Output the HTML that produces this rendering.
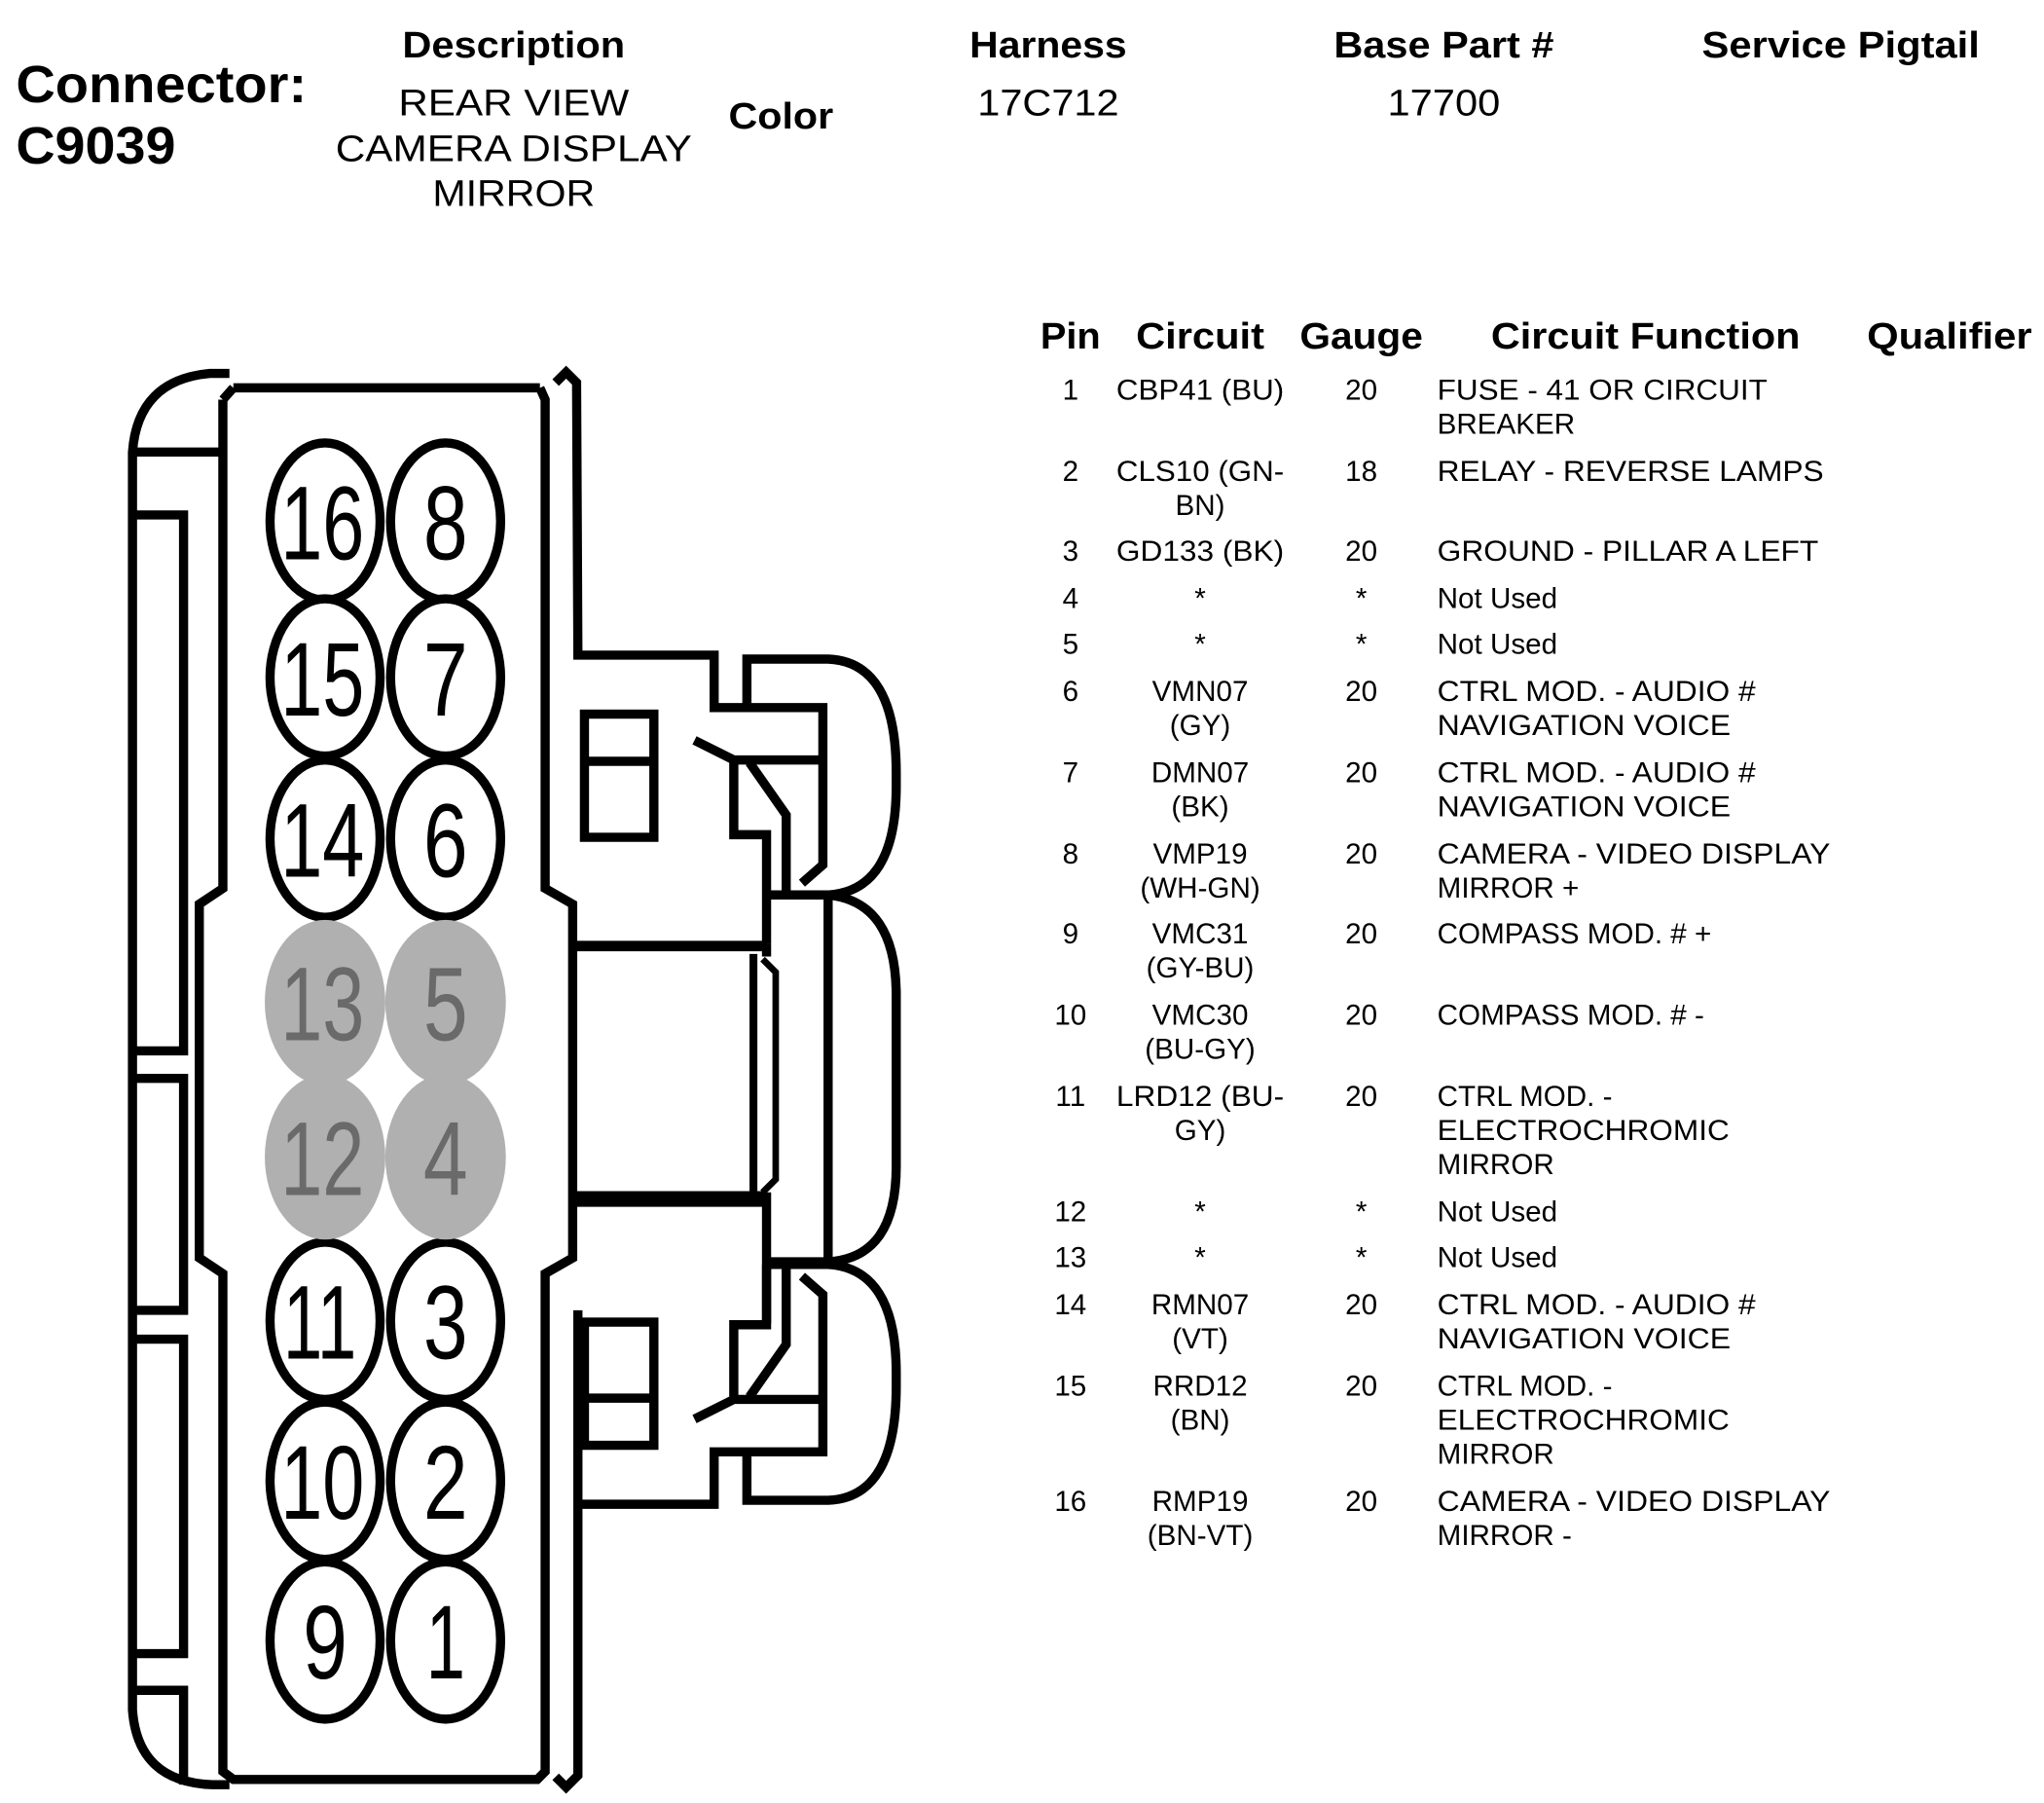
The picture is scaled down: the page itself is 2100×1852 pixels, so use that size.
<!DOCTYPE html>
<html><head><meta charset="utf-8"><style>
html,body{margin:0;padding:0;background:#fff}
svg{display:block}
text{font-family:"Liberation Sans",Arial,sans-serif;fill:#000}
.b{font-weight:bold}
.h{font-size:28px;font-weight:bold}
.d{font-size:28px}
.r{font-size:22px}
.pn{font-size:80px}
</style></head><body>
<svg width="2100" height="1852" viewBox="0 0 1560 1376" xmlns="http://www.w3.org/2000/svg">
<rect width="1560" height="1376" fill="#fff"/>
<!-- header -->
<text x="12" y="78" class="b" font-size="40" textLength="222" lengthAdjust="spacingAndGlyphs">Connector:</text>
<text x="12" y="125" class="b" font-size="40" textLength="122" lengthAdjust="spacingAndGlyphs">C9039</text>
<g text-anchor="middle">
<text x="392" y="44" class="h" textLength="170" lengthAdjust="spacingAndGlyphs">Description</text>
<text x="392" y="88" class="d" textLength="176" lengthAdjust="spacingAndGlyphs">REAR VIEW</text>
<text x="392" y="123" class="d" textLength="272" lengthAdjust="spacingAndGlyphs">CAMERA DISPLAY</text>
<text x="392" y="157" class="d" textLength="124" lengthAdjust="spacingAndGlyphs">MIRROR</text>
<text x="596" y="98" class="h" textLength="80" lengthAdjust="spacingAndGlyphs">Color</text>
<text x="800" y="44" class="h" textLength="120" lengthAdjust="spacingAndGlyphs">Harness</text>
<text x="800" y="88" class="d" textLength="108" lengthAdjust="spacingAndGlyphs">17C712</text>
<text x="1102" y="44" class="h" textLength="168" lengthAdjust="spacingAndGlyphs">Base Part #</text>
<text x="1102" y="88" class="d" textLength="86" lengthAdjust="spacingAndGlyphs">17700</text>
<text x="1405" y="44" class="h" textLength="212" lengthAdjust="spacingAndGlyphs">Service Pigtail</text>
<text x="817" y="266" class="h" textLength="46" lengthAdjust="spacingAndGlyphs">Pin</text>
<text x="916" y="266" class="h" textLength="98" lengthAdjust="spacingAndGlyphs">Circuit</text>
<text x="1039" y="266" class="h" textLength="94" lengthAdjust="spacingAndGlyphs">Gauge</text>
<text x="1256" y="266" class="h" textLength="236" lengthAdjust="spacingAndGlyphs">Circuit Function</text>
<text x="1488" y="266" class="h" textLength="126" lengthAdjust="spacingAndGlyphs">Qualifier</text>
</g>
<g class="r">
<g text-anchor="middle">
<text x="817" y="305">1</text><text x="916" y="305" textLength="128" lengthAdjust="spacingAndGlyphs">CBP41 (BU)</text><text x="1039" y="305">20</text>
<text x="817" y="367">2</text><text x="916" y="367" textLength="128" lengthAdjust="spacingAndGlyphs">CLS10 (GN-</text><text x="916" y="393">BN)</text><text x="1039" y="367">18</text>
<text x="817" y="428">3</text><text x="916" y="428" textLength="128" lengthAdjust="spacingAndGlyphs">GD133 (BK)</text><text x="1039" y="428">20</text>
<text x="817" y="464">4</text><text x="916" y="464">*</text><text x="1039" y="464">*</text>
<text x="817" y="499">5</text><text x="916" y="499">*</text><text x="1039" y="499">*</text>
<text x="817" y="535">6</text><text x="916" y="535">VMN07</text><text x="916" y="561">(GY)</text><text x="1039" y="535">20</text>
<text x="817" y="597">7</text><text x="916" y="597">DMN07</text><text x="916" y="623">(BK)</text><text x="1039" y="597">20</text>
<text x="817" y="659">8</text><text x="916" y="659">VMP19</text><text x="916" y="685">(WH-GN)</text><text x="1039" y="659">20</text>
<text x="817" y="720">9</text><text x="916" y="720">VMC31</text><text x="916" y="746">(GY-BU)</text><text x="1039" y="720">20</text>
<text x="817" y="782">10</text><text x="916" y="782">VMC30</text><text x="916" y="808">(BU-GY)</text><text x="1039" y="782">20</text>
<text x="817" y="844">11</text><text x="916" y="844" textLength="128" lengthAdjust="spacingAndGlyphs">LRD12 (BU-</text><text x="916" y="870">GY)</text><text x="1039" y="844">20</text>
<text x="817" y="932">12</text><text x="916" y="932">*</text><text x="1039" y="932">*</text>
<text x="817" y="967">13</text><text x="916" y="967">*</text><text x="1039" y="967">*</text>
<text x="817" y="1003">14</text><text x="916" y="1003">RMN07</text><text x="916" y="1029">(VT)</text><text x="1039" y="1003">20</text>
<text x="817" y="1065">15</text><text x="916" y="1065">RRD12</text><text x="916" y="1091">(BN)</text><text x="1039" y="1065">20</text>
<text x="817" y="1153">16</text><text x="916" y="1153">RMP19</text><text x="916" y="1179">(BN-VT)</text><text x="1039" y="1153">20</text>
</g>
<text x="1097" y="305" textLength="252" lengthAdjust="spacingAndGlyphs">FUSE - 41 OR CIRCUIT</text><text x="1097" y="331">BREAKER</text>
<text x="1097" y="367" textLength="295" lengthAdjust="spacingAndGlyphs">RELAY - REVERSE LAMPS</text>
<text x="1097" y="428" textLength="291" lengthAdjust="spacingAndGlyphs">GROUND - PILLAR A LEFT</text>
<text x="1097" y="464">Not Used</text>
<text x="1097" y="499">Not Used</text>
<text x="1097" y="535" textLength="243" lengthAdjust="spacingAndGlyphs">CTRL MOD. - AUDIO #</text><text x="1097" y="561" textLength="224" lengthAdjust="spacingAndGlyphs">NAVIGATION VOICE</text>
<text x="1097" y="597" textLength="243" lengthAdjust="spacingAndGlyphs">CTRL MOD. - AUDIO #</text><text x="1097" y="623" textLength="224" lengthAdjust="spacingAndGlyphs">NAVIGATION VOICE</text>
<text x="1097" y="659" textLength="300" lengthAdjust="spacingAndGlyphs">CAMERA - VIDEO DISPLAY</text><text x="1097" y="685">MIRROR +</text>
<text x="1097" y="720">COMPASS MOD. # +</text>
<text x="1097" y="782">COMPASS MOD. # -</text>
<text x="1097" y="844">CTRL MOD. -</text><text x="1097" y="870" textLength="223" lengthAdjust="spacingAndGlyphs">ELECTROCHROMIC</text><text x="1097" y="896">MIRROR</text>
<text x="1097" y="932">Not Used</text>
<text x="1097" y="967">Not Used</text>
<text x="1097" y="1003" textLength="243" lengthAdjust="spacingAndGlyphs">CTRL MOD. - AUDIO #</text><text x="1097" y="1029" textLength="224" lengthAdjust="spacingAndGlyphs">NAVIGATION VOICE</text>
<text x="1097" y="1065">CTRL MOD. -</text><text x="1097" y="1091" textLength="223" lengthAdjust="spacingAndGlyphs">ELECTROCHROMIC</text><text x="1097" y="1117">MIRROR</text>
<text x="1097" y="1153" textLength="300" lengthAdjust="spacingAndGlyphs">CAMERA - VIDEO DISPLAY</text><text x="1097" y="1179">MIRROR -</text>
</g>

<!-- connector -->
<g fill="none" stroke="#000" stroke-width="7">
<path d="M175 285 L160 285 Q105 290 101 345 L101 1305 Q105 1360 162 1362 L175 1362"/>
<path d="M101 345 L168 345"/>
<path d="M101 393 L140 393 L140 802 L101 802"/>
<path d="M101 823 L140 823 L140 1000 L101 1000"/>
<path d="M101 1022 L140 1022 L140 1262 L101 1262"/>
<path d="M101 1290 L140 1290 L140 1362"/>
<path d="M178 296 L412 296"/>
<path d="M170 305 L170 678 L152 690 L152 960 L170 972 L170 1352 L178 1358 L410 1358 L416 1352 L416 972 L437 960 L437 690 L416 678 L416 305 L412 296"/>
<path d="M170 305 L178 296"/>
<path d="M424 292 L432 284 L440 292 L441 500 L545 500 L545 540 L628 540 L628 660 L612 674"/>
<path d="M441 1000 L441 1355 L432 1364 L424 1356"/>
<path d="M570 540 L570 503 L632 503 Q684 505 684 590 L684 600 Q684 680 632 683 L585 683"/>
<rect x="446" y="545" width="53" height="94"/>
<path d="M446 581 L499 581"/>
<path d="M530 565 L560 580 L628 580"/>
<path d="M560 580 L560 637 L585 637 L585 720"/>
<path d="M572 582 L600 622 L600 683"/>
<path d="M585 683 L632 683 L632 963 L585 963"/>
<path d="M632 683 Q684 688 684 760 L684 890 Q684 960 632 963"/>
<path d="M437 722 L585 722" stroke-width="8"/>
<path d="M437 915 L585 915" stroke-width="12"/>
<path d="M575 728 L575 910" stroke-width="6"/>
<path d="M582 732 L592 742 L592 900 L582 910" stroke-width="5"/>
<path d="M585 720 L585 730"/>
<path d="M585 910 L585 1010"/>
<g transform="translate(0,1648) scale(1,-1)">
<path d="M441 500 L545 500 L545 540 L628 540 L628 660 L612 674"/>
<path d="M570 540 L570 503 L632 503 Q684 505 684 590 L684 600 Q684 680 632 683 L585 683"/>
<rect x="446" y="545" width="53" height="94"/>
<path d="M446 581 L499 581"/>
<path d="M530 565 L560 580 L628 580"/>
<path d="M560 580 L560 637 L585 637 L585 683"/>
<path d="M572 582 L600 622 L600 683"/>
</g>
</g>
<g stroke="#000" stroke-width="7" fill="#fff">
<ellipse cx="248" cy="398" rx="42" ry="60"/><ellipse cx="340" cy="398" rx="42" ry="60"/>
<ellipse cx="248" cy="517" rx="42" ry="60"/><ellipse cx="340" cy="517" rx="42" ry="60"/>
<ellipse cx="248" cy="640" rx="42" ry="60"/><ellipse cx="340" cy="640" rx="42" ry="60"/>
<ellipse cx="248" cy="1008" rx="42" ry="60"/><ellipse cx="340" cy="1008" rx="42" ry="60"/>
<ellipse cx="248" cy="1130" rx="42" ry="60"/><ellipse cx="340" cy="1130" rx="42" ry="60"/>
<ellipse cx="248" cy="1252" rx="42" ry="60"/><ellipse cx="340" cy="1252" rx="42" ry="60"/>
</g>
<g fill="#b0b0b0">
<ellipse cx="248" cy="765" rx="46" ry="63"/><ellipse cx="340" cy="765" rx="46" ry="63"/>
<ellipse cx="248" cy="883" rx="46" ry="63"/><ellipse cx="340" cy="883" rx="46" ry="63"/>
</g>
<g class="pn" text-anchor="middle">
<text x="246" y="427" textLength="64" lengthAdjust="spacingAndGlyphs">16</text><text x="340" y="427" textLength="34" lengthAdjust="spacingAndGlyphs">8</text>
<text x="246" y="546" textLength="64" lengthAdjust="spacingAndGlyphs">15</text><text x="340" y="546" textLength="34" lengthAdjust="spacingAndGlyphs">7</text>
<text x="246" y="669" textLength="64" lengthAdjust="spacingAndGlyphs">14</text><text x="340" y="669" textLength="34" lengthAdjust="spacingAndGlyphs">6</text>
<text x="246" y="794" textLength="64" lengthAdjust="spacingAndGlyphs" style="fill:#6a6a6a">13</text><text x="340" y="794" textLength="34" lengthAdjust="spacingAndGlyphs" style="fill:#6a6a6a">5</text>
<text x="246" y="912" textLength="64" lengthAdjust="spacingAndGlyphs" style="fill:#6a6a6a">12</text><text x="340" y="912" textLength="34" lengthAdjust="spacingAndGlyphs" style="fill:#6a6a6a">4</text>
<text x="244" y="1037" textLength="56" lengthAdjust="spacingAndGlyphs">11</text><text x="340" y="1037" textLength="34" lengthAdjust="spacingAndGlyphs">3</text>
<text x="246" y="1159" textLength="64" lengthAdjust="spacingAndGlyphs">10</text><text x="340" y="1159" textLength="34" lengthAdjust="spacingAndGlyphs">2</text>
<text x="248" y="1281" textLength="34" lengthAdjust="spacingAndGlyphs">9</text><text x="340" y="1281" textLength="30" lengthAdjust="spacingAndGlyphs">1</text>
</g>
</svg>
</body></html>
